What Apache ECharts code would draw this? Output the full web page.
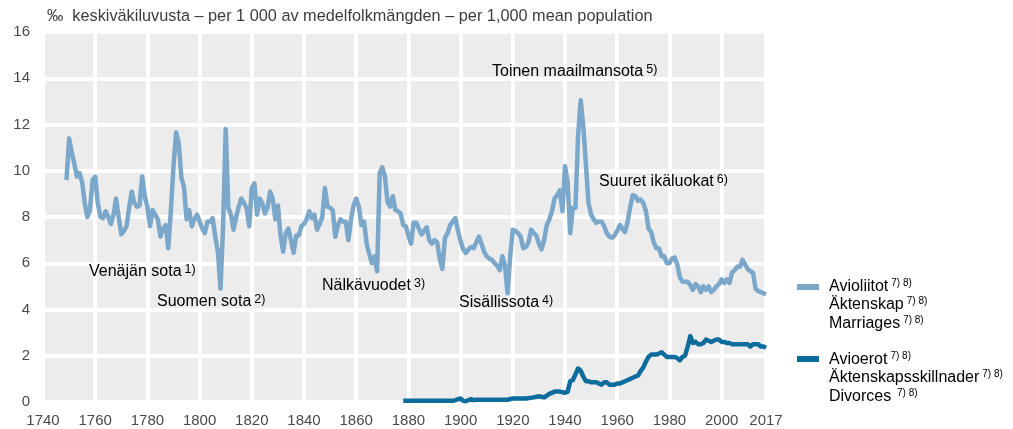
<!DOCTYPE html>
<html>
<head>
<meta charset="utf-8">
<script src="https://cdn.jsdelivr.net/npm/echarts@6/dist/echarts.min.js"></script>
<style>
    html, body { margin: 0; padding: 0; background: #fff; }
    #chart { width: 1013px; height: 429px; }
</style>
</head>
<body>
<div id="chart"></div>
<script>
// Avioliitot / Äktenskap / Marriages, ‰
const marriageYears = [
    1749, 1750, 1751, 1752, 1753, 1754, 1755, 1756, 1757, 1758, 1759, 1760, 1761, 1762, 1763, 1764, 1765, 1766, 1767, 1768, 1769,
    1770, 1771, 1772, 1773, 1774, 1775, 1776, 1777, 1778, 1779, 1780, 1781, 1782, 1783, 1784, 1785, 1786, 1787, 1788, 1789,
    1790, 1791, 1792, 1793, 1794, 1795, 1796, 1797, 1798, 1799, 1800, 1801, 1802, 1803, 1804, 1805, 1806, 1807, 1808, 1809,
    1810, 1811, 1812, 1813, 1814, 1815, 1816, 1817, 1818, 1819, 1820, 1821, 1822, 1823, 1824, 1825, 1826, 1827, 1828, 1829,
    1830, 1831, 1832, 1833, 1834, 1835, 1836, 1837, 1838, 1839, 1840, 1841, 1842, 1843, 1844, 1845, 1846, 1847, 1848, 1849,
    1850, 1851, 1852, 1853, 1854, 1855, 1856, 1857, 1858, 1859, 1860, 1861, 1862, 1863, 1864, 1865, 1866, 1867, 1868, 1869,
    1870, 1871, 1872, 1873, 1874, 1875, 1876, 1877, 1878, 1879, 1880, 1881, 1882, 1883, 1884, 1885, 1886, 1887, 1888, 1889,
    1890, 1891, 1892, 1893, 1894, 1895, 1896, 1897, 1898, 1899, 1900, 1901, 1902, 1903, 1904, 1905, 1906, 1907, 1908, 1909,
    1910, 1911, 1912, 1913, 1914, 1915, 1916, 1917, 1918, 1919, 1920, 1921, 1922, 1923, 1924, 1925, 1926, 1927, 1928, 1929,
    1930, 1931, 1932, 1933, 1934, 1935, 1936, 1937, 1938, 1939, 1940, 1941, 1942, 1943, 1944, 1945, 1946, 1947, 1948, 1949,
    1950, 1951, 1952, 1953, 1954, 1955, 1956, 1957, 1958, 1959, 1960, 1961, 1962, 1963, 1964, 1965, 1966, 1967, 1968, 1969,
    1970, 1971, 1972, 1973, 1974, 1975, 1976, 1977, 1978, 1979, 1980, 1981, 1982, 1983, 1984, 1985, 1986, 1987, 1988, 1989,
    1990, 1991, 1992, 1993, 1994, 1995, 1996, 1997, 1998, 1999, 2000, 2001, 2002, 2003, 2004, 2005, 2006, 2007, 2008, 2009,
    2010, 2011, 2012, 2013, 2014, 2015, 2016, 2017
]
const marriageValues = [
    9.6, 11.4, 10.8, 10.3, 9.75, 9.9, 9.5, 8.6, 8.0, 8.3, 9.6, 9.75, 8.6, 8.0, 7.95, 8.25, 8.0, 7.7, 8.1, 8.8, 8.0,
    7.25, 7.4, 7.6, 8.4, 9.1, 8.6, 8.45, 8.5, 9.75, 8.9, 8.45, 7.6, 8.3, 8.1, 7.9, 7.15, 7.5, 7.65, 6.65, 8.3,
    10.2, 11.65, 11.2, 9.7, 9.3, 7.9, 8.3, 7.6, 7.9, 8.1, 7.8, 7.5, 7.3, 7.8, 7.8, 7.95, 7.15, 6.5, 4.9, 7.6,
    11.8, 8.4, 8.1, 7.45, 8.0, 8.45, 8.8, 8.6, 8.4, 7.6, 9.25, 9.45, 8.1, 8.8, 8.6, 8.15, 8.4, 9.1, 8.8, 7.9,
    8.5, 7.2, 6.5, 7.3, 7.5, 7.0, 6.45, 7.2, 7.2, 7.6, 7.7, 7.9, 8.25, 7.95, 8.1, 7.45, 7.7, 8.0, 9.25, 8.45,
    8.4, 8.3, 7.15, 7.65, 7.9, 7.8, 7.8, 7.0, 7.9, 8.5, 8.8, 8.45, 7.65, 7.8, 6.85, 6.4, 6.0, 6.3, 5.65, 9.9,
    10.15, 9.75, 8.65, 8.45, 8.9, 8.3, 8.25, 8.15, 7.65, 7.6, 7.2, 6.85, 7.75, 7.75, 7.5, 7.25, 7.4, 7.55, 7.0, 6.85,
    7.0, 6.9, 6.2, 5.75, 7.1, 7.3, 7.65, 7.8, 7.95, 7.4, 6.95, 6.6, 6.45, 6.6, 6.7, 6.65, 6.9, 7.15, 6.85, 6.5,
    6.3, 6.2, 6.15, 6.0, 5.9, 5.7, 6.3, 5.9, 4.7, 6.3, 7.45, 7.4, 7.3, 7.15, 6.65, 6.7, 6.9, 7.45, 7.3, 7.2,
    6.85, 6.6, 7.0, 7.65, 7.9, 8.25, 8.8, 8.95, 9.15, 8.25, 10.2, 9.5, 7.3, 8.4, 8.4, 11.5, 13.05, 11.9, 10.3, 8.6,
    8.1, 7.9, 7.75, 7.8, 7.8, 7.6, 7.3, 7.15, 7.1, 7.2, 7.4, 7.65, 7.5, 7.35, 7.8, 8.45, 8.95, 8.9, 8.7, 8.75,
    8.6, 8.25, 7.5, 7.35, 6.9, 6.65, 6.65, 6.3, 6.3, 6.0, 6.0, 6.2, 6.25, 5.95, 5.4, 5.2, 5.2, 5.2, 5.05, 4.85,
    5.1, 5.0, 4.75, 5.0, 4.85, 5.0, 4.75, 4.85, 5.0, 5.1, 5.3, 5.15, 5.3, 5.15, 5.6, 5.7, 5.85, 5.85, 6.15, 5.95,
    5.75, 5.65, 5.6, 4.9, 4.8, 4.75, 4.7, 4.65
]

// Avioerot / Äktenskapsskillnader / Divorces, ‰
const divorceYears = [
    1878, 1897, 1898, 1899, 1900, 1901, 1902, 1903, 1904, 1905, 1906, 1918, 1920, 1925, 1928, 1930, 1932, 1934, 1936, 1938,
    1940, 1941, 1942, 1943, 1944, 1945, 1946, 1947, 1948, 1949, 1950, 1951, 1952, 1953, 1954, 1955, 1956, 1957, 1958, 1959,
    1960, 1961, 1962, 1963, 1964, 1965, 1966, 1967, 1968, 1969, 1970, 1971, 1972, 1973, 1974, 1975, 1976, 1977, 1978, 1979,
    1980, 1981, 1982, 1983, 1984, 1985, 1986, 1987, 1988, 1989, 1990, 1991, 1992, 1993, 1994, 1995, 1996, 1997, 1998, 1999,
    2000, 2001, 2002, 2003, 2004, 2005, 2006, 2007, 2008, 2009, 2010, 2011, 2012, 2013, 2014, 2015, 2016, 2017
]
const divorceValues = [
    0.05, 0.05, 0.08, 0.12, 0.15, 0.05, 0.03, 0.08, 0.12, 0.08, 0.1, 0.1, 0.15, 0.15, 0.2, 0.25, 0.2, 0.35, 0.45, 0.45,
    0.4, 0.45, 0.9, 0.95, 1.2, 1.45, 1.35, 1.1, 0.9, 0.9, 0.85, 0.85, 0.85, 0.8, 0.75, 0.85, 0.85, 0.75, 0.75, 0.75,
    0.8, 0.8, 0.85, 0.9, 0.95, 1.0, 1.05, 1.1, 1.15, 1.35, 1.5, 1.75, 1.95, 2.05, 2.05, 2.05, 2.1, 2.15, 2.05, 1.95,
    1.95, 1.95, 1.95, 1.9, 1.8, 1.95, 2.0, 2.4, 2.85, 2.55, 2.6, 2.5, 2.5, 2.55, 2.7, 2.65, 2.6, 2.65, 2.7, 2.7,
    2.6, 2.6, 2.55, 2.55, 2.5, 2.5, 2.5, 2.5, 2.5, 2.5, 2.5, 2.4, 2.5, 2.5, 2.5, 2.4, 2.4, 2.35
]

// Tapahtumat (annotations): text, superscript, x, y
const eventLabels = [
    ['Venäjän sota', '1)', 89, 272],
    ['Suomen sota', '2)', 157, 302],
    ['Nälkävuodet', '3)', 322, 286],
    ['Sisällissota', '4)', 459, 303],
    ['Toinen maailmansota', '5)', 492, 72],
    ['Suuret ikäluokat', '6)', 599, 182]
]

const xTicks = { min: 1740, max: 2017, step: 20 }
const yTicks = { min: 0, max: 16, step: 2 }

const MARRIAGE_COLOR = '#7aa7ca'
const DIVORCE_COLOR = '#0d6c9c'
const TEXT_COLOR = '#3c3c3c'
const FONT = '"Liberation Sans", Arial, sans-serif'

function toPairs(xs, ys) {
    return xs.map((x, i) => [x, ys[i]])
}

const richText = {
    a: { fontSize: 16, fontFamily: FONT, color: TEXT_COLOR, lineHeight: 18 },
    s: { fontSize: 12.5, fontFamily: FONT, color: TEXT_COLOR, lineHeight: 18, verticalAlign: 'top', padding: [0, 0, 0, 3] }
}

const legendRich = {
    a: { fontSize: 16, fontFamily: FONT, color: TEXT_COLOR, lineHeight: 18.5 },
    s: { fontSize: 10, fontFamily: FONT, color: TEXT_COLOR, lineHeight: 18.5, verticalAlign: 'top', padding: [1, 0, 0, 3] }
}

let graphics = []

eventLabels.forEach(item => {
    graphics.push({
        type: 'text',
        z: 100,
        x: item[2],
        y: item[3],
        style: {
            text: `{a|${item[0]}}{s|${item[1]}}`,
            rich: richText,
            verticalAlign: 'middle'
        }
    })
})

// selite (legend)
graphics.push(
    { type: 'rect', z: 100, shape: { x: 797, y: 284, width: 22, height: 6 }, style: { fill: MARRIAGE_COLOR } },
    {
        type: 'text', z: 100, x: 829, y: 277,
        style: {
            text: '{a|Avioliitot}{s|7) 8)}\n{a|Äktenskap}{s|7) 8)}\n{a|Marriages}{s|7) 8)}',
            rich: legendRich, verticalAlign: 'top'
        }
    },
    { type: 'rect', z: 100, shape: { x: 797, y: 356, width: 22, height: 6 }, style: { fill: DIVORCE_COLOR } },
    {
        type: 'text', z: 100, x: 829, y: 350,
        style: {
            text: '{a|Avioerot}{s|7) 8)}\n{a|Äktenskapsskillnader}{s|7) 8)}\n{a|Divorces}{s| 7) 8)}',
            rich: legendRich, verticalAlign: 'top'
        }
    }
)

const option = {
    animation: false,
    title: {
        text: '‰  keskiväkiluvusta – per 1 000 av medelfolkmängden – per 1,000 mean population',
        left: 47,
        top: 9,
        padding: 0,
        textStyle: { fontSize: 16.3, fontWeight: 'normal', fontFamily: FONT, color: TEXT_COLOR }
    },
    grid: {
        left: 43,
        right: 1013 - 766,
        top: 32,
        bottom: 27,
        show: true,
        backgroundColor: '#ebeceb',
        borderWidth: 0
    },
    xAxis: {
        type: 'value',
        min: xTicks.min,
        max: xTicks.max,
        interval: xTicks.step,
        axisLine: { show: false },
        axisTick: { show: false },
        axisLabel: {
            color: '#4a4a4a', fontSize: 15, fontFamily: FONT, margin: 11, showMaxLabel: true,
            formatter: value => String(value)
        },
        splitLine: { show: true, lineStyle: { color: '#fff', width: 4 } }
    },
    yAxis: {
        type: 'value',
        min: yTicks.min,
        max: yTicks.max,
        interval: yTicks.step,
        axisLine: { show: false },
        axisTick: { show: false },
        axisLabel: { color: '#4a4a4a', fontSize: 15, fontFamily: FONT, margin: 13 },
        splitLine: { show: true, lineStyle: { color: '#fff', width: 4 } }
    },
    series: [
        {
            name: 'Avioliitot',
            type: 'line',
            data: toPairs(marriageYears, marriageValues),
            showSymbol: false,
            lineStyle: { color: MARRIAGE_COLOR, width: 4.5, join: 'round' },
            itemStyle: { color: MARRIAGE_COLOR }
        },
        {
            name: 'Avioerot',
            type: 'line',
            data: toPairs(divorceYears, divorceValues),
            showSymbol: false,
            lineStyle: { color: DIVORCE_COLOR, width: 4.5, join: 'round' },
            itemStyle: { color: DIVORCE_COLOR }
        }
    ],
    graphic: graphics
}

let myChart = echarts.init(document.getElementById('chart'))
myChart.setOption(option)
</script>
</body>
</html>
